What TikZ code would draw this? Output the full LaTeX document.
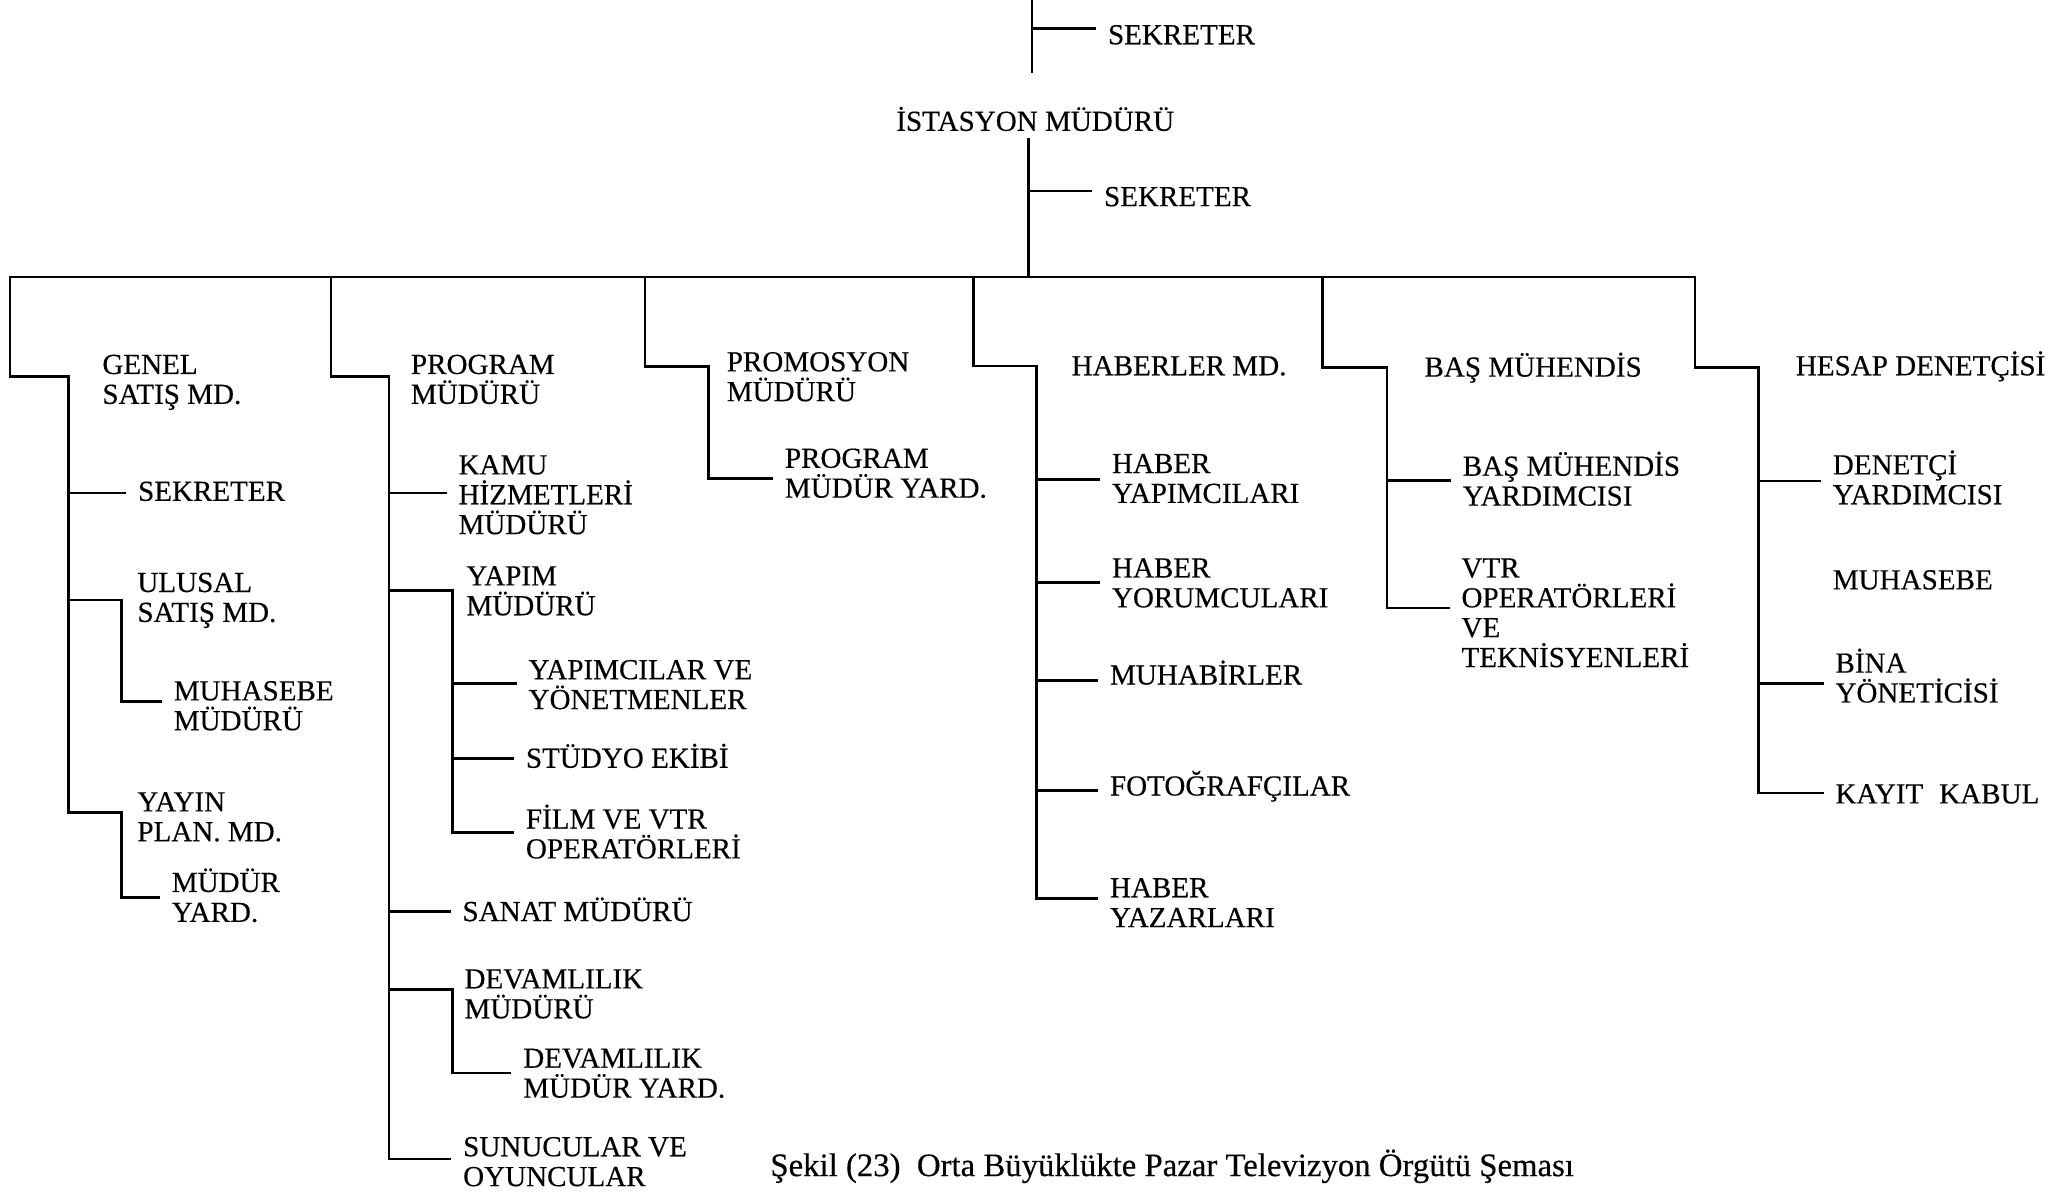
\documentclass[tikz,border=0pt]{standalone}
\usepackage{fontspec}
\setmainfont{Liberation Serif}[FakeBold=0.35]
% left-aligned stack of lines; baseline = first line
\newcommand\stk[1]{\vtop{\halign{##\hfil\cr#1\crcr}}}
% label: name, x of text start, y of first-line centre, text
\newcommand\orgnode[4]{\node[lbl] (#1) at ({#2-9},{#3+7}) {\stk{#4}};}
\begin{document}
\begin{tikzpicture}[x=0.5pt,y=-0.5pt,line width=1pt,line cap=rect,
  lbl/.style={anchor=base west,inner xsep=4.5pt,inner ysep=0pt,
    font=\fontsize{11}{11.3}\selectfont},
  capt/.style={anchor=base west,inner sep=0pt,font=\fontsize{12.4}{14}\selectfont}]
\useasboundingbox (0,0) rectangle (1568,903);

% ---------- labels ----------
\orgnode{sek0}{837.5}{26.5}{SEKRETER}
\orgnode{ist}{677.3}{92}{İSTASYON MÜDÜRÜ}
\orgnode{sek1}{834.5}{149}{SEKRETER}
\orgnode{genel}{76.5}{276}{GENEL\cr SATIŞ MD.}
\orgnode{prog}{310}{276}{PROGRAM\cr MÜDÜRÜ}
\orgnode{promo}{549}{274}{PROMOSYON\cr MÜDÜRÜ}
\orgnode{haber}{810}{277}{HABERLER MD.}
\orgnode{basm}{1077}{278}{BAŞ MÜHENDİS}
\orgnode{hesap}{1358}{277}{HESAP DENETÇİSİ}
% sales
\orgnode{sekA}{103.5}{372}{SEKRETER}
\orgnode{ulusal}{103}{441}{ULUSAL\cr SATIŞ MD.}
\orgnode{muhm}{130.5}{523}{MUHASEBE\cr MÜDÜRÜ}
\orgnode{yayin}{103}{607}{YAYIN\cr PLAN. MD.}
\orgnode{myard}{129}{668}{MÜDÜR\cr YARD.}
% programme
\orgnode{kamu}{346}{352}{KAMU\cr HİZMETLERİ\cr MÜDÜRÜ}
\orgnode{yapim}{352}{436}{YAPIM\cr MÜDÜRÜ}
\orgnode{ypmc}{399}{507}{YAPIMCILAR VE\cr YÖNETMENLER}
\orgnode{studyo}{397}{574}{STÜDYO EKİBİ}
\orgnode{film}{397}{620}{FİLM VE VTR\cr OPERATÖRLERİ}
\orgnode{sanat}{349}{690}{SANAT MÜDÜRÜ}
\orgnode{devam}{350.5}{741}{DEVAMLILIK\cr MÜDÜRÜ}
\orgnode{devy}{395}{801}{DEVAMLILIK\cr MÜDÜR YARD.}
\orgnode{sunucu}{349.5}{868}{SUNUCULAR VE\cr OYUNCULAR}
% promotion
\orgnode{pyard}{593}{347}{PROGRAM\cr MÜDÜR YARD.}
% news
\orgnode{hyap}{840.5}{351}{HABER\cr YAPIMCILARI}
\orgnode{hyor}{840.5}{430}{HABER\cr YORUMCULARI}
\orgnode{muhab}{839}{511}{MUHABİRLER}
\orgnode{foto}{839}{595}{FOTOĞRAFÇILAR}
\orgnode{hyaz}{839}{672}{HABER\cr YAZARLARI}
% engineering
\orgnode{bmy}{1106}{353}{BAŞ MÜHENDİS\cr YARDIMCISI}
\orgnode{vtr}{1105}{430}{VTR\cr OPERATÖRLERİ\cr VE\cr TEKNİSYENLERİ}
% accounts
\orgnode{deny}{1386}{352}{DENETÇİ\cr YARDIMCISI}
\orgnode{muhs}{1386}{439}{MUHASEBE}
\orgnode{bina}{1388}{502}{BİNA\cr YÖNETİCİSİ}
\orgnode{kayit}{1388}{601}{KAYIT\hspace{0.55em}KABUL}

\node[capt] (caption) at (582,890) {Şekil (23)\ \ Orta Büyüklükte Pazar Televizyon Örgütü Şeması};

% ---------- top of chart ----------
\coordinate (topin) at (781,0);
\coordinate (topend) at (781,54);
\coordinate (j0) at (781,21.5);
\draw (topin) -- (topend);
\draw (j0) -- (j0 -| sek0.west);

\coordinate (istdown) at (778.5,105.5);
\coordinate (j1) at (778.5,144.5);
\coordinate (barmid) at (778.5,209.5);
\draw (istdown) -- (barmid);
\draw (j1) -- (j1 -| sek1.west);

% ---------- main bar and drops ----------
\coordinate (d1) at (7.6,209.5);
\coordinate (d2) at (250.5,209.5);
\coordinate (d3) at (488,209.5);
\coordinate (d4) at (736.5,209.5);
\coordinate (d5) at (1001,209.5);
\coordinate (d6) at (1282.7,209.5);
\draw (d1) -- (d6);

\coordinate (k1) at (52,285);
\coordinate (k2) at (294.5,285);
\coordinate (k3) at (536,277.5);
\coordinate (k4) at (784.5,277);
\coordinate (k5) at (1049.5,278);
\coordinate (k6) at (1330.5,278);
\coordinate (t1) at (52,615);
\coordinate (t2) at (294.5,877);
\coordinate (t3) at (536,362);
\coordinate (t4) at (784.5,680);
\coordinate (t5) at (1049.5,460);
\coordinate (t6) at (1330.5,600);
\foreach \i in {1,...,6} {\draw (d\i) |- (k\i) -- (t\i);}

% ---------- sales ----------
\coordinate (a1) at (52,373);
\draw (a1) -- (a1 -| sekA.west);
\coordinate (a2) at (52,454);
\coordinate (a2e) at (92,454);
\coordinate (a2f) at (92,531);
\draw (a2) -- (a2e) -- (a2f) -- (a2f -| muhm.west);
\coordinate (a3e) at (92,615);
\coordinate (a3f) at (92,679);
\draw (t1) -- (a3e) -- (a3f) -- (a3f -| myard.west);

% ---------- programme ----------
\coordinate (b1) at (294.5,373);
\draw (b1) -- (b1 -| kamu.west);
\coordinate (b2) at (294.5,447);
\coordinate (b2e) at (342.5,447);
\coordinate (b2f) at (342.5,630);
\draw (b2) -- (b2e) -- (b2f);
\coordinate (b21) at (342.5,517);
\coordinate (b22) at (342.5,574);
\draw (b21) -- (b21 -| ypmc.west);
\draw (b22) -- (b22 -| studyo.west);
\draw (b2f) -- (b2f -| film.west);
\coordinate (b3) at (294.5,690);
\draw (b3) -- (b3 -| sanat.west);
\coordinate (b4) at (294.5,749);
\coordinate (b4e) at (342.5,749);
\coordinate (b4f) at (342.5,812);
\draw (b4) -- (b4e) -- (b4f) -- (b4f -| devy.west);
\draw (t2) -- (t2 -| sunucu.west);

% ---------- promotion ----------
\draw (t3) -- (t3 -| pyard.west);

% ---------- news ----------
\coordinate (n1) at (784.5,363);
\coordinate (n2) at (784.5,441);
\coordinate (n3) at (784.5,515);
\coordinate (n4) at (784.5,598);
\draw (n1) -- (n1 -| hyap.west);
\draw (n2) -- (n2 -| hyor.west);
\draw (n3) -- (n3 -| muhab.west);
\draw (n4) -- (n4 -| foto.west);
\draw (t4) -- (t4 -| hyaz.west);

% ---------- engineering ----------
\coordinate (m1) at (1049.5,363.5);
\draw (m1) -- (m1 -| bmy.west);
\draw (t5) -- (t5 -| vtr.west);

% ---------- accounts ----------
\coordinate (h1) at (1330.5,364);
\coordinate (h2) at (1330.5,517);
\draw (h1) -- (h1 -| deny.west);
\draw (h2) -- (h2 -| bina.west);
\draw (t6) -- (t6 -| kayit.west);
\end{tikzpicture}
\end{document}
